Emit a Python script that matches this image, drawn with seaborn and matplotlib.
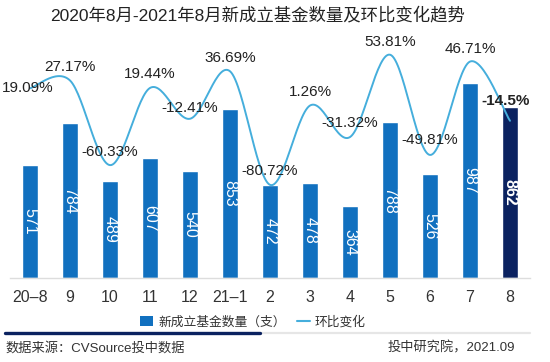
import numpy as np
import pandas as pd
import matplotlib
matplotlib.use("Agg")
import matplotlib.pyplot as plt
import seaborn as sns
from matplotlib.patches import Patch
from matplotlib.lines import Line2D

# ---- data ----
months = ["20–8", "9", "10", "11", "12", "21–1", "2", "3", "4", "5", "6", "7", "8"]
counts = [571, 784, 489, 607, 540, 853, 472, 478, 364, 788, 526, 987, 862]
mom = [19.09, 27.17, -60.33, 19.44, -12.41, 36.69, -80.72, 1.26, -31.32, 53.81, -49.81, 46.71, -14.5]
mom_labels = ["19.09%", "27.17%", "-60.33%", "19.44%", "-12.41%", "36.69%", "-80.72%",
              "1.26%", "-31.32%", "53.81%", "-49.81%", "46.71%", "-14.5%"]

title = "2020年8月-2021年8月新成立基金数量及环比变化趋势"
legend_bar = "新成立基金数量（支）"
legend_line = "环比变化"
source_left = "数据来源：CVSource投中数据"
source_right = "投中研究院，2021.09"

# ---- style ----
bar_color = "#1170BF"
last_color = "#0B2260"
line_color = "#45AEDC"
text_color = "#333333"

sns.set_theme(style="white")
plt.rcParams["font.family"] = ["Liberation Sans", "Noto Sans CJK SC", "DejaVu Sans"]

W, H = 550, 362
fig = plt.figure(figsize=(W / 100, H / 100), dpi=100)
fig.patch.set_facecolor("white")
ax = fig.add_axes([10 / W, (H - 278) / H, 520 / W, 238 / H])

df = pd.DataFrame({"month": months, "count": counts})
palette = [bar_color] * (len(months) - 1) + [last_color]
sns.barplot(data=df, x="month", y="count", hue="month", palette=palette,
            legend=False, width=0.42, saturation=1, ax=ax)
ax.set_xlim(-0.5, len(months) - 0.5)
ax.set_ylim(0, 1202)
ax.set_xlabel("")
ax.set_ylabel("")
ax.set_yticks([])
for s in ["top", "left", "right"]:
    ax.spines[s].set_visible(False)
ax.spines["bottom"].set_color("#DDDDDD")
ax.spines["bottom"].set_linewidth(1)
ax.tick_params(axis="x", length=0, pad=9, labelsize=11.5, labelcolor=text_color)

for i, c in enumerate(counts):
    last = i == len(counts) - 1
    ax.text(i, c / 2, str(c), rotation=-90, ha="center", va="center",
            color="white", fontsize=11.5, fontweight="bold" if last else "normal")

# ---- smoothed line on secondary axis ----
ax2 = ax.twinx()
ax2.set_ylim(-177, 69)
ax2.set_yticks([])
for s in ax2.spines.values():
    s.set_visible(False)

xs = np.arange(len(mom), dtype=float)
ys = np.array(mom, dtype=float)


def catmull_rom(x, y, n=30):
    px = np.concatenate([[x[0]], x, [x[-1]]])
    py = np.concatenate([[y[0]], y, [y[-1]]])
    outx, outy = [], []
    for i in range(1, len(px) - 2):
        p0x, p1x, p2x, p3x = px[i - 1], px[i], px[i + 1], px[i + 2]
        p0y, p1y, p2y, p3y = py[i - 1], py[i], py[i + 1], py[i + 2]
        c1x, c1y = p1x + (p2x - p0x) / 6, p1y + (p2y - p0y) / 6
        c2x, c2y = p2x - (p3x - p1x) / 6, p2y - (p3y - p1y) / 6
        t = np.linspace(0, 1, n, endpoint=(i == len(px) - 3))
        b0 = (1 - t) ** 3
        b1 = 3 * (1 - t) ** 2 * t
        b2 = 3 * (1 - t) * t ** 2
        b3 = t ** 3
        outx.append(b0 * p1x + b1 * c1x + b2 * c2x + b3 * p2x)
        outy.append(b0 * p1y + b1 * c1y + b2 * c2y + b3 * p2y)
    return np.concatenate(outx), np.concatenate(outy)


sx, sy = catmull_rom(xs, ys)
sns.lineplot(x=sx, y=sy, ax=ax2, color=line_color, linewidth=1.4,
             sort=False, estimator=None)

label_dy = [0, 13, 13, 14, 11, 13, 14, 14, 14, 13, 15, 13, 20]
label_dx = [-2, 0, 0, 0, 0, 0, 0, 0, 0, 0, 0, 0, -4]
for i, (v, lab) in enumerate(zip(mom, mom_labels)):
    last = i == len(mom) - 1
    ax2.annotate(lab, (i, v), xytext=(label_dx[i], label_dy[i]),
                 textcoords="offset pixels", ha="center", va="center",
                 fontsize=11, color="#222222",
                 fontweight="bold" if last else "normal")

# ---- title ----
fig.text(258 / W, (H - 15) / H, title, ha="center", va="center", fontsize=12.5, color="#222222")

# ---- legend ----
handles = [Patch(facecolor=bar_color, edgecolor="none", label=legend_bar),
           Line2D([], [], color=line_color, lw=1.5, label=legend_line)]
fig.legend(handles=handles, loc="center", bbox_to_anchor=(253 / W, (H - 322) / H),
           ncol=2, frameon=False, fontsize=9.2, handlelength=1.0, handleheight=0.9,
           handletextpad=0.4, columnspacing=0.9, labelcolor=text_color)

# ---- divider ----
fig.add_artist(Line2D([5 / W, 530 / W], [(H - 333) / H] * 2, color="#E6E6E6", lw=1.6,
                      transform=fig.transFigure))
fig.add_artist(Line2D([5 / W, 260 / W], [(H - 333) / H] * 2, color=last_color, lw=2.4,
                      transform=fig.transFigure))

# ---- footer ----
fig.text(5 / W, (H - 348) / H, source_left, ha="left", va="center", fontsize=9.5, color=text_color)
fig.text(515 / W, (H - 348) / H, source_right, ha="right", va="center", fontsize=9.5, color=text_color)

fig.savefig("out.png", dpi=100, facecolor="white")
